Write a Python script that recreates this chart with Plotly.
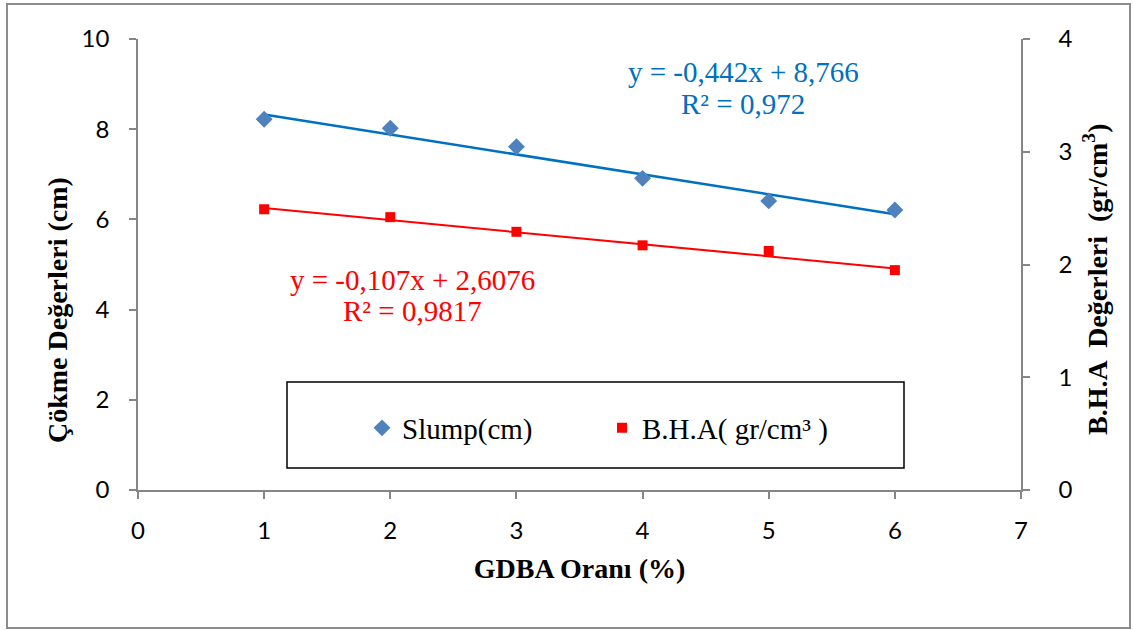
import numpy as np
import plotly.graph_objects as go

# ---- data ----
gdba = [1, 2, 3, 4, 5, 6]
slump = [8.22, 8.02, 7.61, 6.91, 6.41, 6.21]
bha = [2.49, 2.42, 2.29, 2.17, 2.12, 1.95]

slump_fit = [-0.442, 8.766]      # slope, intercept
bha_fit = [-0.107, 2.6076]
slump_eq = ["y = -0,442x + 8,766", "R² = 0,972"]
bha_eq = ["y = -0,107x + 2,6076", "R² = 0,9817"]

x_title = "<b>GDBA Oranı (%)</b>"
y_title = "<b>Çökme Değerleri (cm)</b>"
y2_title = "<b>B.H.A  Değerleri  (gr/cm<sup>3</sup>)</b>"

# ---- styles ----
BLUE_M = "#4F81BD"
BLUE_L = "#0070C0"
RED = "#FF0000"
AX = "#868686"
SERIF = "Liberation Serif, Times New Roman, serif"
SANS = "Lato, Open Sans, sans-serif"

W, H = 1133, 630
L, R, T, B = 138, 112, 39, 140
pw, ph = W - L - R, H - T - B


def px_x(p):
    return (p - L) / pw


def px_y(p):
    return (H - B - p) / ph


fx = np.array([min(gdba), max(gdba)], dtype=float)

fig = go.Figure()
fig.add_trace(go.Scatter(x=fx, y=slump_fit[0] * fx + slump_fit[1], mode="lines",
                         line=dict(color=BLUE_L, width=2.5), showlegend=False, hoverinfo="skip"))
fig.add_trace(go.Scatter(x=fx, y=bha_fit[0] * fx + bha_fit[1], mode="lines", yaxis="y2",
                         line=dict(color=RED, width=2), showlegend=False, hoverinfo="skip"))
fig.add_trace(go.Scatter(x=gdba, y=slump, mode="markers", name="Slump(cm)",
                         marker=dict(symbol="diamond", size=13, color=BLUE_M)))
fig.add_trace(go.Scatter(x=gdba, y=bha, mode="markers", name="B.H.A( gr/cm³ )", yaxis="y2",
                         marker=dict(symbol="square", size=10, color=RED)))

axis_common = dict(showgrid=False, zeroline=False, showline=True, linecolor=AX, linewidth=1.5,
                   ticks="outside", ticklen=7, tickcolor=AX, tickwidth=1.5,
                   tickfont=dict(family=SANS, size=24, color="black"))
title_font = dict(family=SERIF, size=28, color="black")
eq_font = 29


def txt(text, x, y, color="black", size=eq_font, angle=0, family=SERIF):
    return dict(text=text, xref="paper", yref="paper", x=px_x(x), y=px_y(y),
                xanchor="center", yanchor="middle", showarrow=False, textangle=angle,
                font=dict(family=family, size=size, color=color))


fig.update_layout(
    width=W, height=H,
    margin=dict(l=L, r=R, t=T, b=B),
    paper_bgcolor="white", plot_bgcolor="white",
    xaxis=dict(range=[0, 7], dtick=1, tick0=0, ticklabelstandoff=11,
               title=dict(text=x_title, font=title_font, standoff=16),
               **axis_common),
    yaxis=dict(range=[0, 10], dtick=2, tick0=0, ticklabelstandoff=15, **axis_common),
    yaxis2=dict(range=[0, 4], dtick=1, tick0=0, overlaying="y", side="right", ticklabelstandoff=24,
                **axis_common),
    legend=dict(orientation="h", x=px_x(362), xanchor="left", y=px_y(428), yanchor="middle",
                font=dict(family=SERIF, size=29, color="black"), bgcolor="rgba(0,0,0,0)",
                entrywidth=195, itemwidth=30, tracegroupgap=0),
    shapes=[
        dict(type="rect", xref="paper", yref="paper", x0=px_x(287), x1=px_x(904), y0=px_y(468), y1=px_y(382),
             line=dict(color="black", width=1.5)),
        dict(type="rect", xref="paper", yref="paper", x0=px_x(7), x1=px_x(1130), y0=px_y(628), y1=px_y(4),
             line=dict(color="#8C8C8C", width=2)),
    ],
    annotations=[
        txt(slump_eq[0], 743, 72, BLUE_L),
        txt(slump_eq[1], 743, 104, BLUE_L),
        txt(bha_eq[0], 412, 280, RED),
        txt(bha_eq[1], 412, 311, RED),
        txt(y_title, 57, 310, size=28, angle=-90),
        txt(y2_title, 1095, 280, size=28, angle=-90),
    ],
)

fig.write_html("out.html", config={"displayModeBar": False},
               post_script="document.body.style.margin='0';")
